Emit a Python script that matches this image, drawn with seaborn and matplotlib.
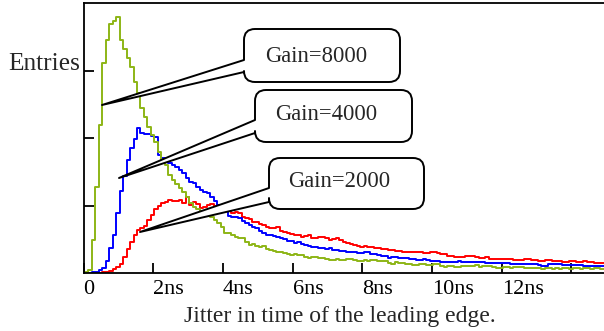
import numpy as np
import pandas as pd
import matplotlib
matplotlib.use("Agg")
import matplotlib.pyplot as plt
import seaborn as sns
from matplotlib.path import Path
from matplotlib.patches import PathPatch
from matplotlib.transforms import Affine2D

# ---------------- data (entries per 0.1 ns bin) ----------------
bin_width_ns = 0.1
first_edge_ns = 0.035

gain_8000 = [
    1, 3, 33, 86, 148, 210, 233, 249, 252, 256,
    233, 224, 215, 206, 191, 180, 165, 156, 146, 138,
    131, 121, 112, 108, 98, 93, 89, 85, 81, 76,
    70, 66, 64, 61, 59, 58, 56, 53, 50, 46,
    40, 40, 38, 36, 35, 35, 31, 28, 29, 27,
    26, 27, 24, 23, 22, 21, 21, 20, 19, 18,
    19, 18, 18, 16, 15, 16, 16, 15, 15, 14,
    13, 13, 14, 13, 13, 14, 14, 13, 12, 12,
    13, 12, 13, 13, 12, 12, 12, 10, 9, 11,
    10, 10, 9, 9, 8, 8, 9, 9, 8, 8,
    9, 9, 7, 6, 7, 7, 6, 6, 7, 7,
    7, 7, 8, 6, 7, 7, 7, 6, 5, 5,
    6, 6, 5, 6, 6, 6, 5, 5, 5, 5,
    5, 4, 5, 5, 4, 5, 4, 5, 5, 4,
    5, 5, 4, 5, 5, 4, 5, 5, 4,
]
gain_4000 = [
    0, 0, 1, 1, 3, 5, 12, 25, 38, 60,
    82, 97, 113, 125, 134, 145, 140, 139, 139, 137,
    136, 118, 115, 113, 110, 108, 106, 103, 100, 95,
    91, 90, 86, 83, 81, 80, 76, 72, 68, 65,
    62, 57, 56, 56, 55, 52, 50, 48, 46, 45,
    42, 40, 38, 38, 37, 36, 35, 34, 32, 32,
    30, 31, 29, 28, 27, 26, 26, 25, 25, 24,
    25, 23, 23, 22, 22, 21, 21, 21, 20, 20,
    21, 21, 19, 19, 18, 17, 17, 15, 16, 16,
    15, 15, 15, 14, 14, 13, 13, 14, 13, 12,
    12, 12, 11, 11, 11, 11, 11, 12, 11, 11,
    11, 11, 11, 11, 11, 10, 10, 10, 10, 10,
    10, 10, 9, 9, 9, 9, 9, 9, 9, 9,
    8, 7, 7, 9, 9, 9, 9, 8, 8, 8,
    8, 8, 8, 7, 7, 7, 7, 7, 7,
]
gain_2000 = [
    0, 0, 0, 0, 0, 1, 1, 2, 4, 6,
    9, 16, 24, 31, 38, 43, 45, 47, 53, 58,
    64, 67, 70, 71, 73, 72, 72, 73, 70, 76,
    68, 71, 69, 65, 66, 68, 69, 67, 65, 64,
    63, 62, 60, 61, 60, 56, 55, 54, 51, 51,
    49, 48, 46, 45, 45, 46, 42, 41, 40, 39,
    38, 38, 36, 37, 38, 35, 35, 36, 36, 35,
    33, 34, 35, 33, 31, 30, 29, 28, 27, 26,
    27, 26, 26, 25, 25, 24, 24, 23, 23, 22,
    22, 21, 21, 21, 21, 21, 21, 20, 20, 21,
    21, 20, 19, 19, 17, 17, 16, 16, 16, 17,
    17, 17, 16, 15, 15, 16, 14, 14, 14, 14,
    14, 14, 14, 13, 13, 13, 14, 14, 13, 13,
    12, 12, 13, 13, 12, 12, 12, 11, 11, 12,
    12, 11, 11, 12, 11, 11, 10, 10, 10,
]

gain_labels = ["Gain=8000", "Gain=4000", "Gain=2000"]
series_colors = ["#8db516", "#0000ff", "#ff0000"]
x_tick_values = [0, 2, 4, 6, 8, 10, 12, 14]
x_tick_labels = ["0", "2ns", "4ns", "6ns", "8ns", "10ns", "12ns", ""]
x_label = "Jitter in time of the leading edge."
y_label = "Entries"

# ---------------- build table ----------------
n_bins = len(gain_8000)
edges = first_edge_ns + bin_width_ns * np.arange(n_bins + 1)
centers = 0.5 * (edges[:-1] + edges[1:])
frames = []
for lab, vals in zip(gain_labels, [gain_8000, gain_4000, gain_2000]):
    frames.append(pd.DataFrame({"time": centers, "entries": vals, "gain": lab}))
df = pd.concat(frames, ignore_index=True)

# ---------------- style ----------------
sns.set_style("white", {"axes.edgecolor": "black"})
plt.rcParams["font.family"] = ["Liberation Serif", "DejaVu Serif"]

W, H = 604, 331
fig = plt.figure(figsize=(W / 100, H / 100), dpi=100)
ax = fig.add_axes([83.5 / W, 58 / H, 521 / W, 270 / H])

sns.histplot(
    data=df, x="time", weights="entries", hue="gain", hue_order=gain_labels,
    palette=series_colors, bins=[float(e) for e in edges], element="step", fill=False,
    linewidth=1.4, legend=False, ax=ax,
)

ax.set_xlim(0, 521 / 34.85)
ax.set_ylim(0, 270)
ax.set_xticks(x_tick_values)
ax.set_xticklabels(x_tick_labels, fontsize=16)
for lab in ax.get_xticklabels():
    lab.set_horizontalalignment("left")
ax.set_yticks([67.5, 135, 202.5])
ax.set_yticklabels([])
ax.tick_params(axis="both", which="major", direction="in", length=7.2, width=1.3,
               colors="black", bottom=True, left=True, top=False, right=False)
ax.tick_params(axis="x", pad=5)
ax.set_xlabel("")
ax.set_ylabel("")
ax.spines["right"].set_visible(False)
for s in ["left", "bottom", "top"]:
    ax.spines[s].set_linewidth(1.3)
    ax.spines[s].set_color("black")

# ---------------- text ----------------
def fx(px):
    return px / W

def fy(py):
    return 1 - py / H

fig.text(fx(80), fy(70), y_label, ha="right", va="baseline", fontsize=18.3)
fig.text(fx(340), fy(322), x_label, ha="center", va="baseline", fontsize=17)

# ---------------- callouts (pixel layout) ----------------
px_to_fig = Affine2D().scale(1 / W, -1 / H).translate(0, 1) + fig.transFigure

callouts = [
    # left, top, right, bottom, attach1, attach2, tip, text x, text baseline
    (244, 29, 400, 82, 60, 72, (102, 105), 316, 62, gain_labels[0]),
    (255, 90, 412, 142, 120, 133, (119, 178), 326, 120, gain_labels[1]),
    (269, 158, 424, 209, 188, 202, (140, 232), 339, 187, gain_labels[2]),
]
r = 11
for L, T, R, B, a1, a2, tip, tx, ty, txt in callouts:
    verts = [
        (L, a1), (L, T + r), (L, T), (L + r, T), (R - r, T), (R, T), (R, T + r),
        (R, B - r), (R, B), (R - r, B), (L + r, B), (L, B), (L, B - r),
        (L, a2), tip, (L, a1),
    ]
    codes = [
        Path.MOVETO, Path.LINETO, Path.CURVE3, Path.CURVE3, Path.LINETO, Path.CURVE3, Path.CURVE3,
        Path.LINETO, Path.CURVE3, Path.CURVE3, Path.LINETO, Path.CURVE3, Path.CURVE3,
        Path.LINETO, Path.LINETO, Path.CLOSEPOLY,
    ]
    patch = PathPatch(Path(verts, codes), facecolor="white", edgecolor="black",
                      linewidth=1.4, transform=px_to_fig, zorder=5, joinstyle="round")
    fig.add_artist(patch)
    fig.text(fx(tx), fy(ty), txt, ha="center", va="baseline", fontsize=16.3, zorder=6)

fig.savefig("out.png", dpi=100)
